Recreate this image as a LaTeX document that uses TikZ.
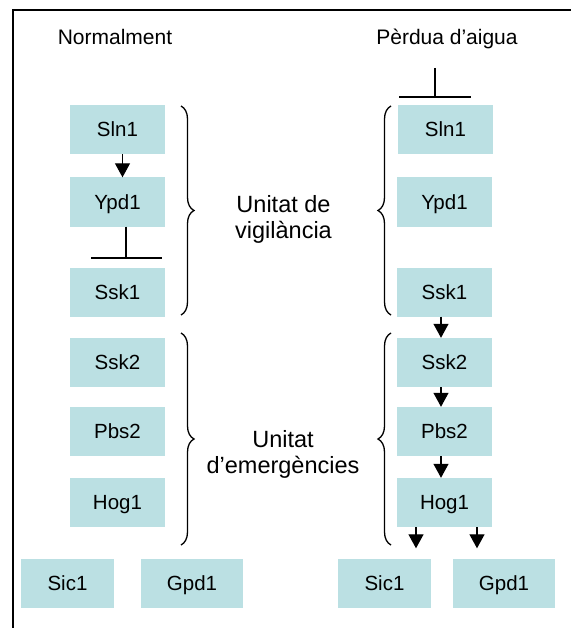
\documentclass[tikz,border=0pt]{standalone}
\usepackage{fontspec}
\setmainfont{Liberation Sans}
\usetikzlibrary{arrows.meta,decorations.pathreplacing}
\definecolor{boxfill}{RGB}{187,224,227}
\begin{document}
\begin{tikzpicture}[x=1pt,y=-1pt,
  gene/.style={fill=boxfill, minimum width=95pt, minimum height=49pt, inner sep=0pt,
    font=\fontsize{20.5}{24}\selectfont, text height=14.7pt, text depth=0pt},
  head/.style={font=\fontsize{21}{25}\selectfont, anchor=base, inner sep=0pt},
  unitlbl/.style={font=\fontsize{23.5}{26}\selectfont, align=center, anchor=base, inner sep=0pt},
  ln/.style={line width=1.2pt},
  arr/.style={line width=1.2pt, -{Triangle[width=15pt,length=14pt]}},
  brc/.style={decorate, decoration={brace, amplitude=13pt}, line width=1.3pt}
]
\useasboundingbox (0,0) rectangle (571,628);
% frame
\draw[line width=1.3pt] (13,628) -- (13,10) -- (571,10);
% headers
\node[head] (hN) at (115,45) {Normalment};
\node[head] (hP) at (447,45) {Pèrdua d’aigua};
% left column
\node[gene] (sL) at (117.5,129.5) {Sln1};
\node[gene] (yL) at (117.5,202) {Ypd1};
\node[gene] (kL) at (117.5,292) {Ssk1};
\node[gene] (k2L) at (117.5,362.5) {Ssk2};
\node[gene] (pL) at (117.5,431.5) {Pbs2};
\node[gene] (hL) at (117.5,502.5) {Hog1};
\node[gene, minimum width=93pt] (scL) at (67.5,583) {Sic1};
\node[gene, minimum width=102pt] (gpL) at (192,583) {Gpd1};
% right column
\node[gene] (sR) at (445.5,129.5) {Sln1};
\node[gene] (yR) at (444.5,202) {Ypd1};
\node[gene] (kR) at (444.5,292) {Ssk1};
\node[gene] (k2R) at (444.5,362.5) {Ssk2};
\node[gene] (pR) at (444.5,431.5) {Pbs2};
\node[gene] (hR) at (444.5,502.5) {Hog1};
\node[gene, minimum width=93pt] (scR) at (384.5,583) {Sic1};
\node[gene, minimum width=102pt] (gpR) at (504,583) {Gpd1};
% unit labels
\node[unitlbl] (u1) at (283.5,238) {Unitat de\\vigilància};
\node[unitlbl] (u2) at (283,473) {Unitat\\d’emergències};
% braces
\draw[brc] (181,106) -- (181,315);
\draw[brc] (181,333) -- (181,545);
\draw[brc] (391,315) -- (391,106);
\draw[brc] (391,545) -- (391,333);
% left connectors
\draw[arr] ([xshift=5pt]sL.south) -- ([xshift=5pt]yL.north);
\coordinate (inhL) at (126,258);
\draw[ln] (yL.south -| inhL) -- (inhL);
\draw[ln] ([xshift=-35pt]inhL) -- ([xshift=36pt]inhL);
% right connectors
\coordinate (sig) at (435,68);
\coordinate (inhR) at (435,97);
\draw[ln] (sig) -- (inhR);
\draw[ln] ([xshift=-36pt]inhR) -- ([xshift=36pt]inhR);
\draw[arr] ([xshift=-3.5pt]kR.south) -- ([xshift=-3.5pt]k2R.north);
\draw[arr] ([xshift=-3.5pt]k2R.south) -- ([xshift=-3.5pt]pR.north);
\draw[arr] ([xshift=-3.5pt]pR.south) -- ([xshift=-3.5pt]hR.north);
\draw[arr, shorten >=10pt] ([xshift=-28.5pt]hR.south) -- ([xshift=31.5pt]scR.north);
\draw[arr, shorten >=10pt] ([xshift=32.5pt]hR.south) -- ([xshift=-27pt]gpR.north);
\end{tikzpicture}
\end{document}
